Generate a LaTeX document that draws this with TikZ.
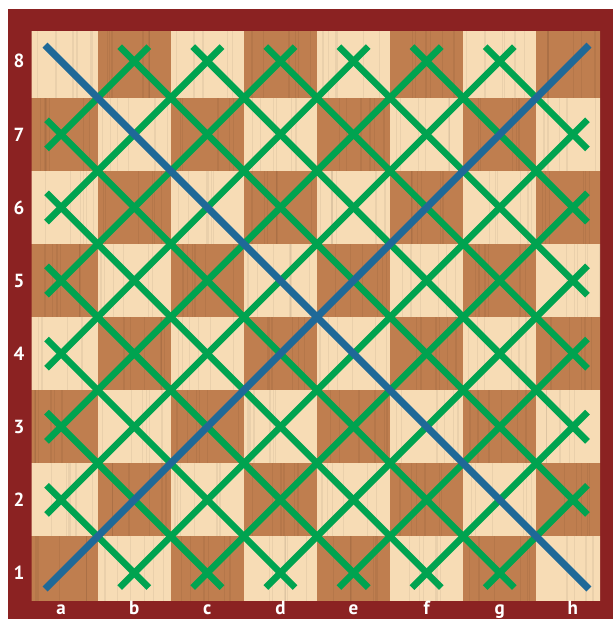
\documentclass[tikz,border=0pt]{standalone}
\usepackage{fontspec}
\setsansfont{PT Sans}
\definecolor{frame}{RGB}{139,34,34}
\definecolor{lightsq}{RGB}{247,220,181}
\definecolor{darksq}{RGB}{191,126,79}
\definecolor{grn}{RGB}{0,163,80}
\definecolor{blu}{RGB}{31,105,152}
\tikzset{
  greenline/.style={draw=grn, line width=6.6pt, line cap=butt},
  blueline/.style={draw=blu, line width=7.2pt, line cap=butt},
  grain/.style={draw=black, opacity=0.05, line width=1.3pt},
  coordlabel/.style={text=white, font=\sffamily\bfseries\fontsize{19}{19}\selectfont, inner sep=0pt},
}
\begin{document}
\begin{tikzpicture}[x=1pt,y=-1pt]
\useasboundingbox (0,0) rectangle (613,619);
\fill[white] (0,0) rectangle (613,619);
\fill[frame] (8,9) rectangle (613,619);
\begin{scope}
  \clip (31.7,31.7) rectangle (600,600.7);
  \begin{scope}[shift={(24.6,609.5)}, x={(73.1pt,0pt)}, y={(0pt,73.1pt)}]
    \pgfmathsetseed{7}
    % squares
    \foreach \i in {0,...,7}{
      \foreach \j in {0,...,7}{
        \pgfmathtruncatemacro\p{mod(\i+\j,2)}
        \ifnum\p=0
          \fill[darksq] (\i,\j) rectangle ++(1,1);
        \else
          \fill[lightsq] (\i,\j) rectangle ++(1,1);
        \fi
        \foreach \t in {1,...,6}{
          \pgfmathsetmacro\xo{\i+0.04+0.92*rnd}
          \draw[grain] (\xo,\j) -- ++(0,1);
        }
      }
    }
    % green diagonals x-y = +-k
    \foreach \k in {1,...,6}{
      \pgfmathsetmacro\a{\k+0.3}
      \pgfmathsetmacro\b{7.7-\k}
      \draw[greenline] (\a,0.3) -- (7.7,\b);
      \draw[greenline] (0.3,\a) -- (\b,7.7);
    }
    % green anti-diagonals x+y = m
    \foreach \m in {2,...,7}{
      \pgfmathsetmacro\c{\m-0.3}
      \draw[greenline] (0.3,\c) -- (\c,0.3);
    }
    \foreach \m in {9,...,14}{
      \pgfmathsetmacro\d{\m-7.7}
      \draw[greenline] (\d,7.7) -- (7.7,\d);
    }
    % blue main diagonals
    \coordinate (a1) at (0.28,0.28);
    \coordinate (h8) at (7.72,7.72);
    \coordinate (a8) at (0.28,7.72);
    \coordinate (h1) at (7.72,0.28);
    \draw[blueline] (a1) -- (h8);
    \draw[blueline] (a8) -- (h1);
  \end{scope}
\end{scope}
% rank labels
\foreach \r in {1,...,8}{
  \pgfmathsetmacro\yy{609.5-(\r-0.5)*73.1}
  \node[coordlabel, name=rank\r] at (19,\yy) {\r};
}
% file labels
\foreach \f/\n in {a/0,b/1,c/2,d/3,e/4,f/5,g/6,h/7}{
  \pgfmathsetmacro\xx{24.6+(\n+0.5)*73.1}
  \node[coordlabel, anchor=base, name=file\f] at (\xx,614.5) {\f};
}
\end{tikzpicture}
\end{document}
